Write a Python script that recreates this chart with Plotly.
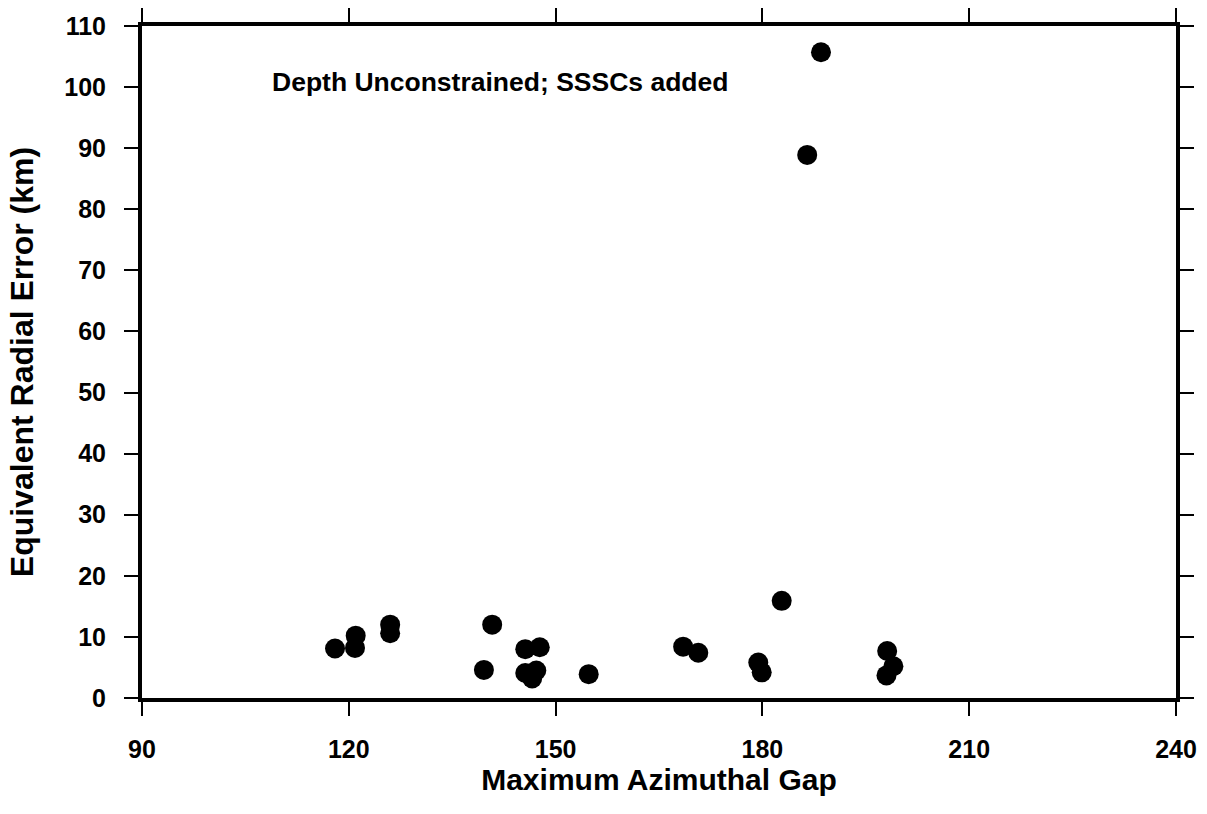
import plotly.graph_objects as go

# Maximum azimuthal gap (degrees) and equivalent radial error (km)
gap = [118.0, 120.9, 121.0, 126.0, 126.0, 139.6, 140.8, 145.6, 147.7, 145.6,
       147.2, 146.6, 154.8, 168.5, 170.7, 182.8, 179.4, 179.9, 198.1, 198.0,
       199.0, 188.5, 186.5]
err = [8.1, 8.2, 10.2, 10.6, 12.0, 4.6, 12.0, 8.0, 8.3, 4.1,
       4.5, 3.2, 3.9, 8.4, 7.4, 15.9, 5.8, 4.2, 7.7, 3.7,
       5.2, 105.7, 88.9]

x_ticks = [90, 120, 150, 180, 210, 240]
y_ticks = [0, 10, 20, 30, 40, 50, 60, 70, 80, 90, 100, 110]

FONT = "Liberation Sans, Arial, Helvetica, sans-serif"

fig = go.Figure()
fig.add_trace(go.Scatter(
    x=gap, y=err, mode="markers",
    marker=dict(size=20, color="black", line=dict(width=0)),
    showlegend=False, hoverinfo="x+y",
))

fig.add_annotation(
    x=108.6, y=100.8, xref="x", yref="y",
    text="<b>Depth Unconstrained; SSSCs added</b>",
    showarrow=False, xanchor="left", yanchor="middle",
    font=dict(family=FONT, size=26.5, color="black"),
)

axis_common = dict(
    showline=True, linecolor="black", linewidth=4, mirror="ticks",
    ticks="outside", ticklen=14, tickwidth=2, tickcolor="black",
    showgrid=False, zeroline=False,
    tickfont=dict(family=FONT, size=25, color="black"),
)

fig.update_xaxes(
    range=[90, 240], tickvals=x_ticks, ticktext=[f"<b>{v}</b>" for v in x_ticks],
    ticklabelstandoff=12,
    title=dict(text="<b>Maximum Azimuthal Gap</b>", standoff=4,
               font=dict(family=FONT, size=30, color="black")),
    **axis_common,
)
fig.update_yaxes(
    range=[0, 110], tickvals=y_ticks, ticktext=[f"<b>{v}</b>" for v in y_ticks],
    ticklabelstandoff=13,
    title=dict(text="<b>Equivalent Radial Error (km)</b>", standoff=22,
               font=dict(family=FONT, size=32, color="black")),
    **axis_common,
)

fig.update_layout(
    width=1207, height=814,
    margin=dict(l=142, r=31, t=26, b=116, autoexpand=False),
    paper_bgcolor="white", plot_bgcolor="white",
)

fig.write_html("out.html")
